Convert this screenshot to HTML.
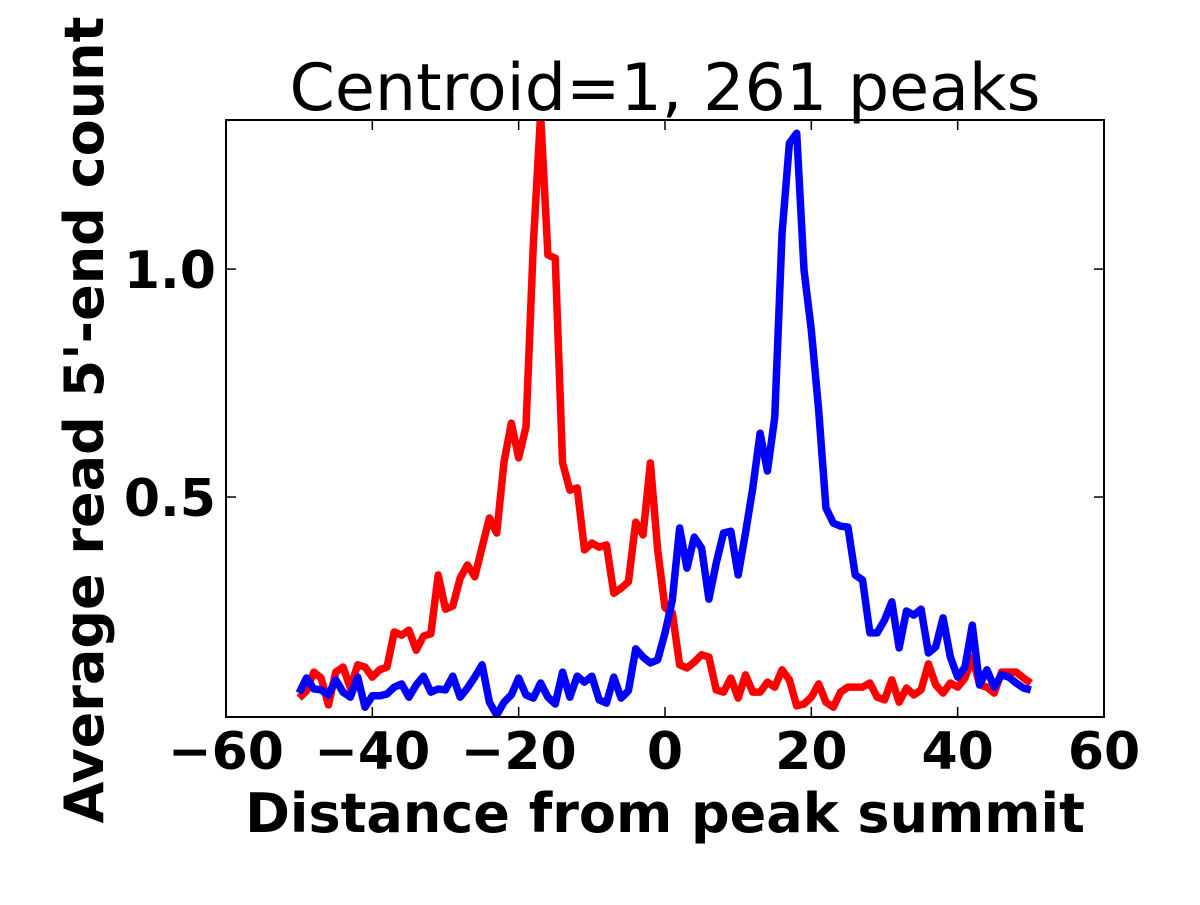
<!DOCTYPE html>
<html><head><meta charset="utf-8"><style>
body{margin:0;background:#fff}
svg text{font-family:"DejaVu Sans","Liberation Sans",sans-serif}
</style></head><body>
<svg id="chart" width="1200" height="900">
<rect width="1200" height="900" fill="#fff"/>
<defs><clipPath id="clip"><rect x="226" y="120" width="878" height="597"/></clipPath></defs>
<text x="665" y="110" font-size="65" text-anchor="middle">Centroid=1, 261 peaks</text>
<g id="plot" clip-path="url(#clip)"></g>
<rect x="226" y="120" width="878" height="597" fill="none" stroke="#000" stroke-width="2"/>
<g id="axes"></g>
<text x="665" y="832" font-size="54" font-weight="bold" text-anchor="middle">Distance from peak summit</text>
<text transform="translate(103,420) rotate(-90)" font-size="54" font-weight="bold" text-anchor="middle">Average read 5'-end count</text>
</svg>
<script>
const xTicks=[-60,-40,-20,0,20,40,60];
const xTickLabels=["\u221260","\u221240","\u221220","0","20","40","60"];
const yTicks=[0.5,1.0];
const yTickLabels=["0.5","1.0"];
const redSeries=[0.059,0.075,0.116,0.103,0.044,0.116,0.127,0.081,0.132,0.127,0.105,0.121,0.127,0.204,0.197,0.208,0.164,0.195,0.200,0.329,0.254,0.261,0.322,0.351,0.325,0.390,0.454,0.421,0.577,0.662,0.586,0.654,1.053,1.34,1.031,1.024,0.575,0.515,0.520,0.384,0.399,0.390,0.395,0.289,0.300,0.314,0.445,0.417,0.575,0.384,0.257,0.246,0.132,0.125,0.138,0.154,0.149,0.077,0.072,0.103,0.059,0.110,0.072,0.072,0.094,0.083,0.121,0.099,0.042,0.046,0.061,0.090,0.050,0.039,0.072,0.083,0.083,0.083,0.092,0.061,0.055,0.099,0.050,0.081,0.066,0.077,0.134,0.088,0.070,0.092,0.083,0.103,0.149,0.088,0.083,0.070,0.116,0.116,0.116,0.103,0.092];
const blueSeries=[0.070,0.103,0.079,0.077,0.066,0.099,0.072,0.061,0.105,0.039,0.064,0.064,0.068,0.083,0.090,0.061,0.088,0.107,0.072,0.079,0.077,0.107,0.061,0.081,0.105,0.132,0.050,0.022,0.050,0.066,0.103,0.066,0.059,0.092,0.061,0.046,0.116,0.061,0.107,0.094,0.107,0.055,0.048,0.105,0.059,0.075,0.167,0.149,0.136,0.143,0.202,0.274,0.432,0.344,0.412,0.388,0.276,0.355,0.421,0.425,0.329,0.421,0.520,0.640,0.557,0.675,1.079,1.276,1.298,0.998,0.866,0.691,0.476,0.443,0.436,0.434,0.329,0.318,0.202,0.202,0.230,0.270,0.169,0.250,0.241,0.254,0.158,0.171,0.235,0.149,0.105,0.127,0.219,0.088,0.121,0.083,0.110,0.105,0.092,0.081,0.077];
const xStart=-50;
const X0=226,X1=1104,Y0=120,Y1=717,xmin=-60,xmax=60,ymin=0.0175,ymax=1.327;
const sx=v=>X0+(v-xmin)/(xmax-xmin)*(X1-X0);
const sy=v=>Y1-(v-ymin)/(ymax-ymin)*(Y1-Y0);
const NS="http://www.w3.org/2000/svg";
const plot=document.getElementById('plot'),axes=document.getElementById('axes');
function line(vals,color,name){
  const p=document.createElementNS(NS,'polyline');
  p.setAttribute('points',vals.map((v,i)=>sx(xStart+i)+','+sy(v)).join(' '));
  p.setAttribute('fill','none');p.setAttribute('stroke',color);
  p.setAttribute('stroke-width','7.5');p.setAttribute('stroke-linejoin','round');
  
  
  plot.appendChild(p);
}
line(redSeries,'#ff0000','red-series-line');
line(blueSeries,'#0000ff','blue-series-line');
xTicks.forEach((t,i)=>{
  const x=sx(t);
  if(i>0&&i<xTicks.length-1){
    [[Y1,Y1-10],[Y0,Y0+10]].forEach(([a,b])=>{
      const l=document.createElementNS(NS,'line');
      l.setAttribute('x1',x);l.setAttribute('x2',x);l.setAttribute('y1',a);l.setAttribute('y2',b);
      l.setAttribute('stroke','#000');l.setAttribute('stroke-width','1.5');
      
      
      axes.appendChild(l);
    });
  }
  const tx=document.createElementNS(NS,'text');
  tx.setAttribute('x',x);tx.setAttribute('y',769);tx.setAttribute('font-size','52');
  tx.setAttribute('font-weight','bold');tx.setAttribute('text-anchor','middle');
  tx.textContent=xTickLabels[i];
  
  
  axes.appendChild(tx);
});
yTicks.forEach((t,i)=>{
  const y=sy(t);
  [[X0,X0+10],[X1,X1-10]].forEach(([a,b])=>{
    const l=document.createElementNS(NS,'line');
    l.setAttribute('x1',a);l.setAttribute('x2',b);l.setAttribute('y1',y);l.setAttribute('y2',y);
    l.setAttribute('stroke','#000');l.setAttribute('stroke-width','1.5');
    
    
    axes.appendChild(l);
  });
  const tx=document.createElementNS(NS,'text');
  tx.setAttribute('x',216);tx.setAttribute('y',y+19);tx.setAttribute('font-size','52');
  tx.setAttribute('font-weight','bold');tx.setAttribute('text-anchor','end');
  tx.textContent=yTickLabels[i];
  
  
  axes.appendChild(tx);
});
</script>
</body></html>
